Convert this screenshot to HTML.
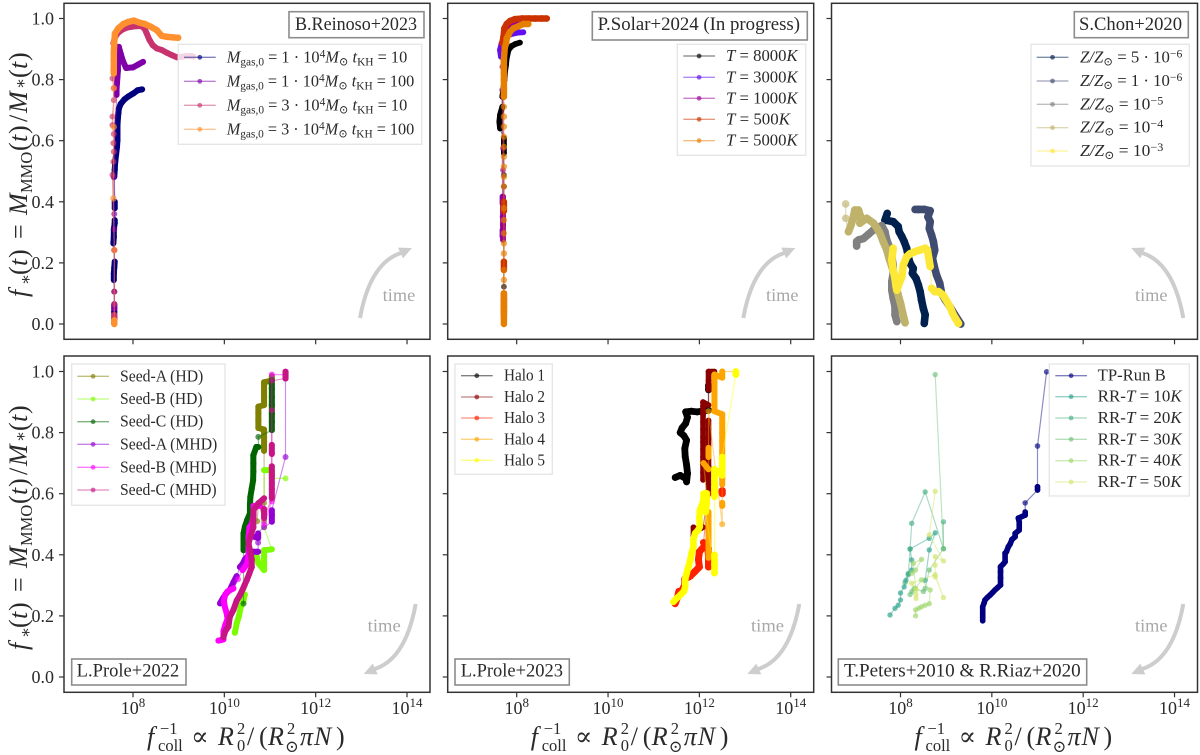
<!DOCTYPE html>
<html lang="en">
<head>
<meta charset="utf-8">
<title>Stellar mass fraction vs collision parameter</title>
<style>
html,body{margin:0;padding:0;background:#fff;}
svg{display:block;font-family:"Liberation Serif","DejaVu Serif",serif;fill:#2a2a2a;}
.m{font-style:italic;}
.s{font-size:11.5px;}
.ll{font-size:16.5px;}
.tt{font-size:18.5px;}
.tm{font-size:18px;fill:#a8a8a8;}
.tb{fill:#fff;stroke:#8c8c8c;stroke-width:1.6;}
.lb{fill:#fff;fill-opacity:.8;stroke:#e6e6e6;stroke-width:1.4;}
.fr{fill:none;stroke:#333;stroke-width:1.5;}
.ax{font-size:26px;}
.axs{font-size:16.5px;}
.tk{font-size:18px;}
.ar{fill:none;stroke:#cdcdcd;stroke-width:4;}
.ah{fill:#cdcdcd;stroke:none;}
</style>
</head>
<body>
<svg id="chart" xmlns="http://www.w3.org/2000/svg" width="1200" height="755" viewBox="0 0 1200 755">
<rect x="0" y="0" width="1200" height="755" fill="#fff"/>

<!-- Panel 1 -->
<g>
<g id="marks-0"></g>
<rect class="fr" x="64" y="3.3" width="366" height="336"/>
<g id="ticks-0"></g>
<rect class="tb" x="289" y="11.7" width="135" height="26"/>
<text class="tt" x="295" y="30" textLength="122" lengthAdjust="spacingAndGlyphs">B.Reinoso+2023</text>
<g>
<rect class="lb" x="178.3" y="44.3" width="243.4" height="100"/>
<g id="legend-0"></g>
<text class="ll" x="226.7" y="62.3" textLength="180.6" lengthAdjust="spacingAndGlyphs"><tspan class="m">M</tspan><tspan class="s" dy="3">gas,0</tspan><tspan dy="-3"> = 1 · 10</tspan><tspan class="s" dy="-5">4</tspan><tspan class="m" dy="5">M</tspan><tspan class="s" dy="3">⊙</tspan><tspan class="m" dy="-3"> t</tspan><tspan class="s" dy="3">KH</tspan><tspan dy="-3"> = 10</tspan></text>
<text class="ll" x="226.7" y="86.3" textLength="187.6" lengthAdjust="spacingAndGlyphs"><tspan class="m">M</tspan><tspan class="s" dy="3">gas,0</tspan><tspan dy="-3"> = 1 · 10</tspan><tspan class="s" dy="-5">4</tspan><tspan class="m" dy="5">M</tspan><tspan class="s" dy="3">⊙</tspan><tspan class="m" dy="-3"> t</tspan><tspan class="s" dy="3">KH</tspan><tspan dy="-3"> = 100</tspan></text>
<text class="ll" x="226.7" y="110.3" textLength="180.6" lengthAdjust="spacingAndGlyphs"><tspan class="m">M</tspan><tspan class="s" dy="3">gas,0</tspan><tspan dy="-3"> = 3 · 10</tspan><tspan class="s" dy="-5">4</tspan><tspan class="m" dy="5">M</tspan><tspan class="s" dy="3">⊙</tspan><tspan class="m" dy="-3"> t</tspan><tspan class="s" dy="3">KH</tspan><tspan dy="-3"> = 10</tspan></text>
<text class="ll" x="226.7" y="134.3" textLength="187.6" lengthAdjust="spacingAndGlyphs"><tspan class="m">M</tspan><tspan class="s" dy="3">gas,0</tspan><tspan dy="-3"> = 3 · 10</tspan><tspan class="s" dy="-5">4</tspan><tspan class="m" dy="5">M</tspan><tspan class="s" dy="3">⊙</tspan><tspan class="m" dy="-3"> t</tspan><tspan class="s" dy="3">KH</tspan><tspan dy="-3"> = 100</tspan></text>
</g>
<g transform="translate(360,318)"><path class="ar" d="M0,0 Q10,-55 41,-65"/><polygon class="ah" points="52,-70 43,-59.6 38,-70.4"/></g>
<text class="tm" x="382.7" y="301" textLength="32.5" lengthAdjust="spacingAndGlyphs">time</text>
</g>

<!-- Panel 2 -->
<g>
<g id="marks-1"></g>
<rect class="fr" x="447.7" y="3.3" width="366" height="336"/>
<g id="ticks-1"></g>
<rect class="tb" x="592.3" y="11.7" width="215" height="28.3"/>
<text class="tt" x="597.7" y="30" textLength="202.3" lengthAdjust="spacingAndGlyphs">P.Solar+2024 (In progress)</text>
<g>
<rect class="lb" x="677.3" y="44.3" width="128.4" height="111"/>
<g id="legend-1"></g>
<text class="ll" x="726" y="61" textLength="71.7" lengthAdjust="spacingAndGlyphs"><tspan class="m">T</tspan> = 8000<tspan class="m">K</tspan></text>
<text class="ll" x="726" y="82.3" textLength="71.7" lengthAdjust="spacingAndGlyphs"><tspan class="m">T</tspan> = 3000<tspan class="m">K</tspan></text>
<text class="ll" x="726" y="103.3" textLength="71.7" lengthAdjust="spacingAndGlyphs"><tspan class="m">T</tspan> = 1000<tspan class="m">K</tspan></text>
<text class="ll" x="726" y="124.3" textLength="64" lengthAdjust="spacingAndGlyphs"><tspan class="m">T</tspan> = 500<tspan class="m">K</tspan></text>
<text class="ll" x="726" y="145.7" textLength="71.7" lengthAdjust="spacingAndGlyphs"><tspan class="m">T</tspan> = 5000<tspan class="m">K</tspan></text>
</g>
<g transform="translate(743.3,318)"><path class="ar" d="M0,0 Q10,-55 41,-65"/><polygon class="ah" points="52,-70 43,-59.6 38,-70.4"/></g>
<text class="tm" x="766" y="301" textLength="32.5" lengthAdjust="spacingAndGlyphs">time</text>
</g>

<!-- Panel 3 -->
<g>
<g id="marks-2"></g>
<rect class="fr" x="831.5" y="3.3" width="366" height="336"/>
<g id="ticks-2"></g>
<rect class="tb" x="1074.3" y="11.7" width="114" height="26"/>
<text class="tt" x="1079" y="30" textLength="103" lengthAdjust="spacingAndGlyphs">S.Chon+2020</text>
<g>
<rect class="lb" x="1031" y="44.3" width="158.3" height="121.7"/>
<g id="legend-2"></g>
<text class="ll" x="1080" y="62.3" textLength="102.3" lengthAdjust="spacingAndGlyphs"><tspan class="m">Z/Z</tspan><tspan class="s" dy="3">⊙</tspan><tspan dy="-3"> = 5 · 10</tspan><tspan class="s" dy="-5">−6</tspan></text>
<text class="ll" x="1080" y="86" textLength="102.3" lengthAdjust="spacingAndGlyphs"><tspan class="m">Z/Z</tspan><tspan class="s" dy="3">⊙</tspan><tspan dy="-3"> = 1 · 10</tspan><tspan class="s" dy="-5">−6</tspan></text>
<text class="ll" x="1080" y="109.3" textLength="83.3" lengthAdjust="spacingAndGlyphs"><tspan class="m">Z/Z</tspan><tspan class="s" dy="3">⊙</tspan><tspan dy="-3"> = 10</tspan><tspan class="s" dy="-5">−5</tspan></text>
<text class="ll" x="1080" y="132.7" textLength="83.3" lengthAdjust="spacingAndGlyphs"><tspan class="m">Z/Z</tspan><tspan class="s" dy="3">⊙</tspan><tspan dy="-3"> = 10</tspan><tspan class="s" dy="-5">−4</tspan></text>
<text class="ll" x="1080" y="156" textLength="83.3" lengthAdjust="spacingAndGlyphs"><tspan class="m">Z/Z</tspan><tspan class="s" dy="3">⊙</tspan><tspan dy="-3"> = 10</tspan><tspan class="s" dy="-5">−3</tspan></text>
</g>
<g transform="translate(1183.3,318) scale(-1,1)"><path class="ar" d="M0,0 Q10,-55 41,-65"/><polygon class="ah" points="52,-70 43,-59.6 38,-70.4"/></g>
<text class="tm" x="1135" y="301" textLength="32.5" lengthAdjust="spacingAndGlyphs">time</text>
</g>

<!-- Panel 4 -->
<g>
<g id="marks-3"></g>
<rect class="fr" x="64" y="356" width="366" height="336.3"/>
<g id="ticks-3"></g>
<rect class="tb" x="71.7" y="659" width="114.3" height="26"/>
<text class="tt" x="76.7" y="676.7" textLength="102.6" lengthAdjust="spacingAndGlyphs">L.Prole+2022</text>
<g>
<rect class="lb" x="71.7" y="364" width="153.3" height="141.3"/>
<g id="legend-3"></g>
<text class="ll" x="120" y="381.3" textLength="83.3" lengthAdjust="spacingAndGlyphs">Seed-A (HD)</text>
<text class="ll" x="120" y="404" textLength="82.6" lengthAdjust="spacingAndGlyphs">Seed-B (HD)</text>
<text class="ll" x="120" y="426.7" textLength="83.3" lengthAdjust="spacingAndGlyphs">Seed-C (HD)</text>
<text class="ll" x="120" y="449.3" textLength="97.3" lengthAdjust="spacingAndGlyphs">Seed-A (MHD)</text>
<text class="ll" x="120" y="472.3" textLength="96.6" lengthAdjust="spacingAndGlyphs">Seed-B (MHD)</text>
<text class="ll" x="120" y="495" textLength="96.6" lengthAdjust="spacingAndGlyphs">Seed-C (MHD)</text>
</g>
<g transform="translate(415.7,604) scale(-1,-1)"><path class="ar" d="M0,0 Q10,-55 41,-65"/><polygon class="ah" points="52,-70 43,-59.6 38,-70.4"/></g>
<text class="tm" x="367.7" y="631.7" textLength="33" lengthAdjust="spacingAndGlyphs">time</text>
</g>

<!-- Panel 5 -->
<g>
<g id="marks-4"></g>
<rect class="fr" x="447.7" y="356" width="366" height="336.3"/>
<g id="ticks-4"></g>
<rect class="tb" x="455" y="659" width="114.3" height="26"/>
<text class="tt" x="460.7" y="676.7" textLength="102.3" lengthAdjust="spacingAndGlyphs">L.Prole+2023</text>
<g>
<rect class="lb" x="455" y="364" width="97.3" height="110.3"/>
<g id="legend-4"></g>
<text class="ll" x="504" y="380.7" textLength="41" lengthAdjust="spacingAndGlyphs">Halo 1</text>
<text class="ll" x="504" y="402" textLength="41" lengthAdjust="spacingAndGlyphs">Halo 2</text>
<text class="ll" x="504" y="423" textLength="41" lengthAdjust="spacingAndGlyphs">Halo 3</text>
<text class="ll" x="504" y="444.3" textLength="41" lengthAdjust="spacingAndGlyphs">Halo 4</text>
<text class="ll" x="504" y="465.3" textLength="41" lengthAdjust="spacingAndGlyphs">Halo 5</text>
</g>
<g transform="translate(799.3,604) scale(-1,-1)"><path class="ar" d="M0,0 Q10,-55 41,-65"/><polygon class="ah" points="52,-70 43,-59.6 38,-70.4"/></g>
<text class="tm" x="751" y="631.7" textLength="33" lengthAdjust="spacingAndGlyphs">time</text>
</g>

<!-- Panel 6 -->
<g>
<g id="marks-5"></g>
<rect class="fr" x="831.5" y="356" width="366" height="336.3"/>
<g id="ticks-5"></g>
<rect class="tb" x="838.3" y="659" width="248.4" height="26"/>
<text class="tt" x="844" y="676.7" textLength="236.7" lengthAdjust="spacingAndGlyphs">T.Peters+2010 &amp; R.Riaz+2020</text>
<g>
<rect class="lb" x="1049.3" y="364" width="140" height="132"/>
<g id="legend-5"></g>
<text class="ll" x="1097.7" y="380.7" textLength="68" lengthAdjust="spacingAndGlyphs">TP-Run B</text>
<text class="ll" x="1097.7" y="401.7" textLength="84" lengthAdjust="spacingAndGlyphs">RR-<tspan class="m">T</tspan> = 10<tspan class="m">K</tspan></text>
<text class="ll" x="1097.7" y="423" textLength="84" lengthAdjust="spacingAndGlyphs">RR-<tspan class="m">T</tspan> = 20<tspan class="m">K</tspan></text>
<text class="ll" x="1097.7" y="444.3" textLength="84" lengthAdjust="spacingAndGlyphs">RR-<tspan class="m">T</tspan> = 30<tspan class="m">K</tspan></text>
<text class="ll" x="1097.7" y="465.7" textLength="84" lengthAdjust="spacingAndGlyphs">RR-<tspan class="m">T</tspan> = 40<tspan class="m">K</tspan></text>
<text class="ll" x="1097.7" y="487" textLength="84" lengthAdjust="spacingAndGlyphs">RR-<tspan class="m">T</tspan> = 50<tspan class="m">K</tspan></text>
</g>
<g transform="translate(1183.3,604) scale(-1,-1)"><path class="ar" d="M0,0 Q10,-55 41,-65"/><polygon class="ah" points="52,-70 43,-59.6 38,-70.4"/></g>
<text class="tm" x="1135" y="631.7" textLength="32.5" lengthAdjust="spacingAndGlyphs">time</text>
</g>

<!-- Y axis titles -->
<g transform="translate(27,297) rotate(-90)">
<text class="ax" y="0"><tspan class="m" x="0">f</tspan><tspan class="axs" x="12" y="4">∗</tspan><tspan x="22" y="0">(</tspan><tspan class="m" x="31">t</tspan><tspan x="39">)</tspan><tspan x="58">=</tspan><tspan class="m" x="82">M</tspan><tspan class="axs" x="104" y="5">MMO</tspan><tspan x="146" y="0">(</tspan><tspan class="m" x="155">t</tspan><tspan x="163">)</tspan><tspan x="175">/</tspan><tspan class="m" x="184">M</tspan><tspan class="axs" x="208" y="-1">∗</tspan><tspan x="219" y="0">(</tspan><tspan class="m" x="228">t</tspan><tspan x="236">)</tspan></text>
</g>
<g transform="translate(27,650) rotate(-90)">
<text class="ax" y="0"><tspan class="m" x="0">f</tspan><tspan class="axs" x="12" y="4">∗</tspan><tspan x="22" y="0">(</tspan><tspan class="m" x="31">t</tspan><tspan x="39">)</tspan><tspan x="58">=</tspan><tspan class="m" x="82">M</tspan><tspan class="axs" x="104" y="5">MMO</tspan><tspan x="146" y="0">(</tspan><tspan class="m" x="155">t</tspan><tspan x="163">)</tspan><tspan x="175">/</tspan><tspan class="m" x="184">M</tspan><tspan class="axs" x="208" y="-1">∗</tspan><tspan x="219" y="0">(</tspan><tspan class="m" x="228">t</tspan><tspan x="236">)</tspan></text>
</g>

<!-- X axis titles -->
<g transform="translate(0,0)">
<text class="ax" y="745"><tspan class="m" x="147">f</tspan><tspan class="axs" x="160" y="734">−1</tspan><tspan class="axs" x="158" y="751">coll</tspan><tspan x="191" y="745">∝</tspan><tspan class="m" x="218">R</tspan><tspan class="axs" x="237" y="734">2</tspan><tspan class="axs" x="237" y="751">0</tspan><tspan x="247" y="745">/</tspan><tspan x="259">(</tspan><tspan class="m" x="268">R</tspan><tspan class="axs" x="287" y="734">2</tspan><tspan class="axs" x="285" y="752">⊙</tspan><tspan class="m" x="300" y="745">π</tspan><tspan class="m" x="314">N</tspan><tspan x="336">)</tspan></text>
</g>
<g transform="translate(383.7,0)">
<text class="ax" y="745"><tspan class="m" x="147">f</tspan><tspan class="axs" x="160" y="734">−1</tspan><tspan class="axs" x="158" y="751">coll</tspan><tspan x="191" y="745">∝</tspan><tspan class="m" x="218">R</tspan><tspan class="axs" x="237" y="734">2</tspan><tspan class="axs" x="237" y="751">0</tspan><tspan x="247" y="745">/</tspan><tspan x="259">(</tspan><tspan class="m" x="268">R</tspan><tspan class="axs" x="287" y="734">2</tspan><tspan class="axs" x="285" y="752">⊙</tspan><tspan class="m" x="300" y="745">π</tspan><tspan class="m" x="314">N</tspan><tspan x="336">)</tspan></text>
</g>
<g transform="translate(767.5,0)">
<text class="ax" y="745"><tspan class="m" x="147">f</tspan><tspan class="axs" x="160" y="734">−1</tspan><tspan class="axs" x="158" y="751">coll</tspan><tspan x="191" y="745">∝</tspan><tspan class="m" x="218">R</tspan><tspan class="axs" x="237" y="734">2</tspan><tspan class="axs" x="237" y="751">0</tspan><tspan x="247" y="745">/</tspan><tspan x="259">(</tspan><tspan class="m" x="268">R</tspan><tspan class="axs" x="287" y="734">2</tspan><tspan class="axs" x="285" y="752">⊙</tspan><tspan class="m" x="300" y="745">π</tspan><tspan class="m" x="314">N</tspan><tspan x="336">)</tspan></text>
</g>
</svg>

<script>
// Tick values and labels
const xTickExponents = [8, 10, 12, 14];
const yTickValues = [0, 0.2, 0.4, 0.6, 0.8, 1.0];
const yTickLabels = ['0.0', '0.2', '0.4', '0.6', '0.8', '1.0'];

// Panel 1: B.Reinoso+2023 (log10 of x, fraction y)
const reinosoT10LowX = [7.59,7.59,7.59,7.59,7.59,7.58,7.58,7.59,7.6,7.57,7.58,7.58,7.6,7.6,7.6,7.6,7.59,7.6,7.61,7.63,7.65,7.66,7.66,7.66,7.67,7.68,7.69,7.73,7.81,7.9,8.01,8.1,8.2];
const reinosoT10LowY = [.002,.012,.04,.062,.106,.144,.165,.185,.204,.264,.285,.31,.33,.34,.379,.40,.482,.505,.53,.555,.58,.602,.625,.65,.675,.69,.705,.72,.735,.745,.755,.765,.768];
const reinosoT100LowX = [7.59,7.59,7.59,7.59,7.59,7.59,7.59,7.58,7.64,7.64,7.65,7.66,7.67,7.67,7.68,7.69,7.73,7.78,7.85,8.0,8.12,8.22];
const reinosoT100LowY = [.002,.05,.065,.106,.242,.31,.36,.48,.75,.77,.79,.81,.83,.855,.88,.907,.885,.86,.838,.84,.85,.858];
const reinosoT10HighX = [7.59,7.59,7.59,7.59,7.59,7.59,7.55,7.57,7.58,7.57,7.58,7.55,7.55,7.58,7.58,7.55,7.57,7.58,7.57,7.605,7.66,7.75,7.86,7.97,8.08,8.19,8.26,8.3,8.36,8.43,8.52,8.63,8.74,8.85,8.96,9.07,9.18,9.28,9.32];
const reinosoT10HighY = [.002,.018,.03,.065,.106,.242,.488,.531,.564,.592,.622,.651,.679,.733,.772,.804,.831,.891,.919,.938,.951,.962,.97,.973,.975,.975,.965,.951,.93,.913,.902,.897,.888,.88,.873,.875,.877,.877,.875];
const reinosoT100HighX = [7.59,7.59,7.59,7.57,7.58,7.58,7.58,7.58,7.58,7.58,7.59,7.605,7.68,7.79,7.9,8.02,8.15,8.26,8.39,8.52,8.63,8.74,8.88,8.99];
const reinosoT100HighY = [0,.012,.242,.411,.645,.772,.82,.84,.865,.887,.921,.951,.968,.982,.989,.993,.986,.982,.973,.962,.943,.94,.938,.937];

// Panel 2: P.Solar+2024
const solar8000X = [7.72,7.72,7.72,7.72,7.72,7.72,7.72,7.72,7.635,7.62,7.635,7.685,7.685,7.71,7.73,7.745,7.765,7.78,7.82,7.89,7.98,8.07];
const solar8000Y = [.122,.188,.199,.45,.488,.559,.586,.608,.64,.662,.684,.711,.744,.771,.799,.826,.848,.87,.897,.91,.917,.921];
const solar3000X = [7.69,7.69,7.69,7.69,7.69,7.68,7.655,7.635,7.67,7.745,7.82,7.93,8.035,8.145];
const solar3000Y = [.286,.308,.351,.395,.417,.766,.875,.897,.919,.932,.946,.951,.954,.955];
const solar1000X = [7.7,7.7,7.7,7.7,7.7,7.7,7.7,7.7,7.7,7.7,7.685,7.71,7.73,7.745,7.82,7.91,8.0,8.11,8.22];
const solar1000Y = [.275,.30,.325,.35,.375,.40,.417,.504,.575,.744,.842,.897,.92,.941,.968,.975,.979,.982,.984];
const solar500X = [7.72,7.72,7.72,7.72,7.72,7.72,7.72,7.72,7.685,7.71,7.73,7.78,7.855,7.96,8.11,8.255,8.4,8.55,8.66];
const solar500Y = [.03,.055,.08,.10,.177,.204,.37,.40,.919,.94,.968,.982,.992,.998,1.0,1.0,1.0,1.0,1.0];
const solar5000X = [7.72,7.72,7.72,7.72,7.72,7.72,7.72,7.72,7.72,7.72,7.72,7.72,7.72,7.72,7.72,7.72,7.72,7.72,7.72,7.72,7.72,7.72,7.72,7.72,7.72,7.72,7.72,7.72,7.73,7.74,7.77,7.78,7.82,7.855,7.93,8.04,8.145,8.255];
const solar5000Y = [0,.02,.04,.06,.08,.10,.144,.177,.231,.264,.297,.34,.379,.45,.482,.515,.548,.58,.613,.646,.679,.711,.744,.771,.80,.82,.842,.865,.886,.905,.919,.935,.946,.957,.968,.975,.982,.982];

// Panel 3: S.Chon+2020
const chonZ5e6X = [8.52,8.54,8.5,8.46,8.43,8.39,8.34,8.26,8.28,8.21,8.17,8.135,8.08,8.03,7.97,7.95,7.84,7.66,7.71];
const chonZ5e6Y = [.002,.03,.051,.079,.106,.128,.149,.166,.182,.199,.22,.248,.27,.286,.302,.319,.335,.34,.362];
const chonZ1e6X = [9.32,9.19,9.08,8.98,8.9,8.86,8.79,8.74,8.7,8.75,8.72,8.68,8.63,8.65,8.6,8.65,8.52,8.39,8.32];
const chonZ1e6Y = [0,.03,.057,.079,.10,.133,.16,.188,.215,.242,.27,.291,.313,.335,.351,.371,.375,.375,.375];
const chonZ1e5X = [7.92,7.88,7.88,7.84,7.81,7.81,7.84,7.84,7.81,7.77,7.7,7.66,7.59,7.41,7.3,7.19,7.08,7.04,7.04];
const chonZ1e5Y = [.008,.03,.057,.084,.111,.139,.166,.193,.22,.248,.275,.302,.322,.308,.294,.28,.275,.27,.255];
const chonZ1e4X = [8.1,8.05,8.0,7.95,7.9,7.88,7.81,7.75,7.7,7.62,7.55,7.5,7.41,7.26,7.11,7.13,7.08,7.0,6.97,6.92,6.86,6.8,6.8];
const chonZ1e4Y = [.004,.035,.068,.095,.122,.155,.188,.215,.242,.27,.297,.31,.33,.346,.33,.35,.373,.373,.351,.325,.302,.346,.393];
const chonZ1e3X = [9.27,9.2,9.14,9.08,9.02,8.93,8.83,8.75,8.68,8.65,8.62,8.59,8.54,8.43,8.32,8.21,8.135,8.06,8.03,7.97,7.92,7.88,7.84,7.81,7.84];
const chonZ1e3Y = [.002,.019,.035,.057,.073,.095,.106,.106,.117,.188,.215,.242,.248,.242,.237,.23,.22,.193,.155,.133,.111,.149,.177,.21,.248];

// Panel 4: L.Prole+2022
const proleSeedAHdX = [10.72,10.745,10.87,10.87,10.87,10.87,10.87,10.87,10.87,10.745,10.745,10.745,10.745,10.87,10.87,10.87,10.87,11.04,11.04];
const proleSeedAHdY = [.51,.57,.51,.54,.57,.74,.76,.785,.81,.815,.84,.865,.885,.89,.915,.94,.965,.97,.985];
const proleSeedBHdX = [10.23,10.27,10.32,10.36,10.42,10.45,10.6,10.71,10.745,10.87,10.87,10.87,10.87,11.04,10.87,10.87,10.87,11.04,11.04,11.34];
const proleSeedBHdY = [.145,.175,.2,.23,.25,.27,.36,.394,.372,.35,.372,.394,.415,.418,.49,.54,.677,.677,.65,.65];
const proleSeedCHdX = [10.42,10.42,10.42,10.42,10.45,10.5,10.56,10.56,10.57,10.6,10.63,10.635,10.635,10.635,10.7,10.745,10.745,11.04,11.04,11.04,11.04,11.04,11.04,11.04];
const proleSeedCHdY = [.24,.415,.443,.47,.492,.514,.535,.563,.59,.617,.644,.672,.699,.726,.753,.753,.786,.808,.835,.863,.89,.917,.944,.972];
const proleSeedAMhdX = [9.905,9.98,10.05,10.12,10.2,10.27,10.34,10.4,10.45,10.54,10.63,10.71,10.74,10.74,10.74,10.74,10.63,10.87,11.04,11.04,11.04,11.34,11.34,11.34];
const proleSeedAMhdY = [.241,.26,.275,.285,.31,.33,.36,.37,.385,.4,.41,.41,.41,.44,.47,.455,.46,.49,.508,.53,.546,.72,.977,.999];
const proleSeedBMhdX = [9.87,9.93,9.98,9.98,10.02,10.07,10.05,10.01,9.99,10.02,10.07,10.2,10.3,10.4,10.5,10.53,10.53,10.53,10.55,10.6,10.64,10.64,10.78,10.87,11.04,11.04,11.34];
const proleSeedBMhdY = [.119,.121,.123,.15,.17,.19,.21,.23,.25,.27,.28,.29,.32,.35,.37,.40,.43,.46,.49,.5,.53,.56,.56,.5,.575,.99,.99];
const proleSeedCMhdX = [9.98,10.02,10.09,10.12,10.2,10.27,10.33,10.38,10.44,10.49,10.55,10.6,10.6,10.56,10.53,10.58,10.635,10.635,10.635,10.745,10.87,10.87,10.87,11.04,11.04,11.04,11.04,11.04,11.04,11.04,11.04,11.04,11.34,11.34];
const proleSeedCMhdY = [.13,.15,.165,.197,.22,.25,.265,.28,.3,.317,.34,.36,.385,.415,.437,.465,.49,.52,.546,.568,.585,.55,.52,.585,.615,.634,.66,.69,.73,.76,.873,.97,.977,.999];

// Panel 5: L.Prole+2023
const haloOneX = [11.47,11.58,11.7,11.72,11.74,11.72,11.69,11.68,11.72,11.66,11.58,11.62,11.7,11.74,11.7,11.82,11.95,12.05,12.2,12.2,12.2];
const haloOneY = [.653,.66,.65,.639,.666,.694,.721,.748,.775,.79,.80,.815,.83,.85,.868,.87,.868,.87,.873,.94,.955];
const haloTwoX = [11.87,11.87,11.95,12.08,12.2,12.2,12.2,12.2,12.2,12.2,12.2,12.2,12.2,12.08,12.08,12.08,12.08,12.08,12.08,12.08,12.08,12.08,12.08,12.08,12.08,12.2,12.2,12.2,12.2,12.33];
const haloTwoY = [.46,.49,.48,.49,.6,.63,.66,.69,.72,.75,.78,.81,.84,.645,.67,.695,.72,.745,.77,.785,.81,.835,.86,.885,.9,.89,.94,.97,1.0,1.0];
const haloThreeX = [11.47,11.52,11.55,11.6,11.68,11.68,11.8,11.9,12.0,11.98,12.0,12.09,12.2,12.2,12.2,12.09,12.2,12.5,12.5];
const haloThreeY = [.24,.26,.28,.28,.3,.32,.33,.345,.36,.385,.41,.425,.36,.39,.42,.44,.6,.61,.6];
const haloFourX = [12.2,12.2,12.2,12.2,12.2,12.2,12.09,12.2,12.2,12.2,12.2,12.5,12.5,12.5,12.5,12.5,12.5,12.5,12.5,12.5,12.5,12.5,12.5,12.33,12.33,12.33,12.33,12.33,12.5,12.5,12.8];
const haloFourY = [.39,.42,.45,.48,.51,.54,.7,.68,.72,.75,.87,.50,.56,.57,.63,.65,.68,.71,.74,.77,.8,.83,.86,.87,.9,.93,.96,.99,.98,1.0,1.0];
const haloFiveX = [11.43,11.5,11.58,11.66,11.69,11.69,11.72,11.76,11.8,11.83,11.87,11.87,11.905,11.97,12.01,12.0,12.01,12.05,12.09,12.09,12.16,12.16,12.14,12.33,12.33,12.33,12.33,12.33,12.33,12.33,12.5,12.5,12.5,12.8,12.8];
const haloFiveY = [.246,.257,.268,.28,.295,.32,.339,.36,.383,.405,.426,.45,.47,.48,.492,.52,.546,.56,.579,.6,.601,.57,.54,.34,.37,.40,.59,.62,.65,.68,.66,.69,.72,.99,1.0];

// Panel 6: T.Peters+2010 & R.Riaz+2020
const tpRunBX = [9.8,9.8,9.8,9.8,9.83,9.85,9.9,9.96,10.02,10.07,10.13,10.19,10.19,10.19,10.19,10.25,10.29,10.29,10.32,10.36,10.4,10.44,10.51,10.51,10.6,10.6,10.6,10.58,10.73,10.73,10.73,11.0,11.0,11.0,11.2];
const tpRunBY = [.184,.196,.208,.23,.242,.252,.26,.268,.277,.285,.293,.301,.325,.345,.361,.37,.377,.405,.41,.426,.435,.45,.459,.47,.481,.5,.508,.52,.53,.54,.57,.612,.623,.756,.999];
const riazT10X = [7.77,7.88,7.95,8.0,8.0,8.08,8.12,8.17,8.245,8.245,8.21,8.63,8.76,8.63,8.54];
const riazT10Y = [.203,.225,.235,.252,.275,.295,.317,.339,.35,.383,.419,.454,.472,.416,.317];
const riazT20X = [8.1,8.17,8.21,8.245,8.54,8.94,8.94];
const riazT20Y = [.31,.334,.419,.503,.606,.42,.508];
const riazT30X = [8.25,8.21,8.3,8.5,8.54,8.63,8.94,8.76];
const riazT30Y = [.28,.27,.29,.28,.29,.35,.42,.99];
const riazT40X = [8.33,8.33,8.4,8.46,8.54,8.63,8.65,8.46,8.33,8.28,8.46,8.33,8.25];
const riazT40Y = [.2,.22,.225,.23,.235,.24,.285,.318,.29,.372,.385,.35,.34];
const riazT50X = [8.34,8.34,8.34,8.245,8.76,8.94,8.76,8.76,8.76,8.94,8.63,8.76];
const riazT50Y = [.257,.27,.285,.307,.335,.26,.328,.366,.394,.38,.465,.608];

// Layout of the six panels
const panelOffsetsX = [0, 383.7, 767.5, 0, 383.7, 767.5];
const panelRowOf = [0, 0, 0, 1, 1, 1];
const panelSwatchStart = [184, 683.3, 1036.7, 77.3, 461, 1055.3];
const rowZeroPx = [324, 677];

// Series registry
const seriesList = [
  {p:0, name:'reinoso-1e4-t10', color:'#00007f', x:reinosoT10LowX, y:reinosoT10LowY, r:3, gap:9, ly:57.3},
  {p:0, name:'reinoso-1e4-t100', color:'#7f00a8', x:reinosoT100LowX, y:reinosoT100LowY, r:3, gap:10, ly:81.3},
  {p:0, name:'reinoso-3e4-t10', color:'#c8336f', x:reinosoT10HighX, y:reinosoT10HighY, r:3, gap:7.6, ly:105.3},
  {p:0, name:'reinoso-3e4-t100', color:'#ff9030', x:reinosoT100HighX, y:reinosoT100HighY, r:3.2, gap:11, ly:129.3},
  {p:1, name:'solar-8000k', color:'#000000', x:solar8000X, y:solar8000Y, r:2.9, gap:10, ly:56},
  {p:1, name:'solar-3000k', color:'#6010f0', x:solar3000X, y:solar3000Y, r:2.9, gap:10, ly:77.3},
  {p:1, name:'solar-1000k', color:'#990099', x:solar1000X, y:solar1000Y, r:2.9, gap:10, ly:98.3},
  {p:1, name:'solar-500k', color:'#cc3300', x:solar500X, y:solar500Y, r:3.2, gap:10, ly:119.3},
  {p:1, name:'solar-5000k', color:'#e67e00', x:solar5000X, y:solar5000Y, r:3.2, gap:9, ly:140.7},
  {p:2, name:'chon-z-5e-6', color:'#00224e', x:chonZ5e6X, y:chonZ5e6Y, r:3.8, gap:12, ly:57.3},
  {p:2, name:'chon-z-1e-6', color:'#3f4b70', x:chonZ1e6X, y:chonZ1e6Y, r:3.8, gap:12, ly:81},
  {p:2, name:'chon-z-1e-5', color:'#808080', x:chonZ1e5X, y:chonZ1e5Y, r:3.8, gap:12, ly:104.3},
  {p:2, name:'chon-z-1e-4', color:'#bfb26c', x:chonZ1e4X, y:chonZ1e4Y, r:3.8, gap:12, ly:127.7},
  {p:2, name:'chon-z-1e-3', color:'#fee838', x:chonZ1e3X, y:chonZ1e3Y, r:3.8, gap:12, ly:151},
  {p:3, name:'prole-seed-a-hd', color:'#808000', x:proleSeedAHdX, y:proleSeedAHdY, r:3, gap:9, ly:376.3},
  {p:3, name:'prole-seed-b-hd', color:'#7cfc00', x:proleSeedBHdX, y:proleSeedBHdY, r:3, gap:10, ly:399},
  {p:3, name:'prole-seed-c-hd', color:'#006400', x:proleSeedCHdX, y:proleSeedCHdY, r:3, gap:9.5, ly:421.7},
  {p:3, name:'prole-seed-a-mhd', color:'#9400d3', x:proleSeedAMhdX, y:proleSeedAMhdY, r:3, gap:9, ly:444.3},
  {p:3, name:'prole-seed-b-mhd', color:'#ff00ff', x:proleSeedBMhdX, y:proleSeedBMhdY, r:3, gap:10, ly:467.3},
  {p:3, name:'prole-seed-c-mhd', color:'#c71585', x:proleSeedCMhdX, y:proleSeedCMhdY, r:3, gap:10, ly:490},
  {p:4, name:'halo-1', color:'#000000', x:haloOneX, y:haloOneY, r:3.4, gap:10, ly:375.7},
  {p:4, name:'halo-2', color:'#8b0000', x:haloTwoX, y:haloTwoY, r:2.8, gap:9.5, ly:397},
  {p:4, name:'halo-3', color:'#ff2000', x:haloThreeX, y:haloThreeY, r:3.5, gap:10, ly:418},
  {p:4, name:'halo-4', color:'#ffa500', x:haloFourX, y:haloFourY, r:3, gap:10, ly:439.3},
  {p:4, name:'halo-5', color:'#ffff00', x:haloFiveX, y:haloFiveY, r:3.3, gap:11, ly:460.3},
  {p:5, name:'tp-run-b', color:'#000080', x:tpRunBX, y:tpRunBY, r:2.8, gap:9, ly:375.7},
  {p:5, name:'rr-t-10k', color:'#26a18b', x:riazT10X, y:riazT10Y, r:2.7, gap:0, ly:396.7},
  {p:5, name:'rr-t-20k', color:'#47ae82', x:riazT20X, y:riazT20Y, r:2.7, gap:0, ly:418},
  {p:5, name:'rr-t-30k', color:'#6ec27a', x:riazT30X, y:riazT30Y, r:2.7, gap:0, ly:439.3},
  {p:5, name:'rr-t-40k', color:'#9dd66a', x:riazT40X, y:riazT40Y, r:2.7, gap:0, ly:460.7},
  {p:5, name:'rr-t-50k', color:'#d0e56a', x:riazT50X, y:riazT50Y, r:2.7, gap:0, ly:482}
];

const SVG_NS = 'http://www.w3.org/2000/svg';
const PX_PER_DECADE = 45.67;
const PX_PER_UNIT = 305.5;

function xScale(panel, logValue) {
  return 133 + panelOffsetsX[panel] + (logValue - 8) * PX_PER_DECADE;
}
function yScale(panel, value) {
  return rowZeroPx[panelRowOf[panel]] - value * PX_PER_UNIT;
}
function make(tag, attrs) {
  const el = document.createElementNS(SVG_NS, tag);
  for (const k in attrs) el.setAttribute(k, attrs[k]);
  return el;
}

function drawTicks(panel) {
  const holder = document.getElementById('ticks-' + panel);
  const row = panelRowOf[panel];
  const left = 64 + panelOffsetsX[panel];
  const bottom = row === 0 ? 339.3 : 692.3;
  yTickValues.forEach(function (v, i) {
    const py = yScale(panel, v);
    const tick = make('line', {x1: left - 5, x2: left, y1: py, y2: py, stroke: '#333', 'stroke-width': 1.2});
    
    
    holder.appendChild(tick);
    if (panel % 3 === 0) {
      const label = make('text', {x: left - 10, y: py + 6, 'text-anchor': 'end', class: 'tk'});
      
      
      label.textContent = yTickLabels[i];
      holder.appendChild(label);
    }
  });
  xTickExponents.forEach(function (e) {
    const px = xScale(panel, e);
    const tick = make('line', {x1: px, x2: px, y1: bottom, y2: bottom + 5, stroke: '#333', 'stroke-width': 1.2});
    
    
    holder.appendChild(tick);
    if (row === 1) {
      const label = make('text', {x: px, y: 714, 'text-anchor': 'middle', class: 'tk'});
      
      
      const base = make('tspan', {});
      base.textContent = '10';
      const sup = make('tspan', {dy: -7, 'font-size': 13});
      sup.textContent = String(e);
      label.appendChild(base);
      label.appendChild(sup);
      holder.appendChild(label);
    }
  });
}

function drawSeries(s) {
  const holder = document.getElementById('marks-' + s.p);
  const g = make('g', {});
  
  
  const n = Math.min(s.x.length, s.y.length);
  const pts = [];
  for (let i = 0; i < n; i++) pts.push([xScale(s.p, s.x[i]), yScale(s.p, s.y[i])]);
  const line = make('polyline', {
    points: pts.map(function (q) { return q[0].toFixed(1) + ',' + q[1].toFixed(1); }).join(' '),
    fill: 'none', stroke: s.color, 'stroke-width': 1.2, 'stroke-opacity': 0.45
  });
  
  
  g.appendChild(line);
  // Samples that sit closer than the series gap read as a continuous marker run.
  for (let i = 1; i < n; i++) {
    const dx = pts[i][0] - pts[i - 1][0];
    const dy = pts[i][1] - pts[i - 1][1];
    if (Math.sqrt(dx * dx + dy * dy) <= s.gap) {
      const run = make('line', {
        x1: pts[i - 1][0], y1: pts[i - 1][1], x2: pts[i][0], y2: pts[i][1],
        stroke: s.color, 'stroke-width': 2 * s.r, 'stroke-linecap': 'round'
      });
      
      
      g.appendChild(run);
    }
  }
  pts.forEach(function (q) {
    const dot = make('circle', {cx: q[0], cy: q[1], r: s.r, fill: s.color, 'fill-opacity': 0.65});
    
    
    g.appendChild(dot);
  });
  holder.appendChild(g);
}

function drawSwatch(s) {
  const holder = document.getElementById('legend-' + s.p);
  const x0 = panelSwatchStart[s.p];
  const sw = make('line', {x1: x0, x2: x0 + 31.7, y1: s.ly, y2: s.ly, stroke: s.color, 'stroke-width': 1.3, 'stroke-opacity': 0.5});
  
  
  holder.appendChild(sw);
  const dot = make('circle', {cx: x0 + 15.8, cy: s.ly, r: 2.4, fill: s.color, 'fill-opacity': 0.65});
  
  
  holder.appendChild(dot);
}

for (let p = 0; p < 6; p++) drawTicks(p);
seriesList.forEach(drawSeries);
seriesList.forEach(drawSwatch);
</script>
</body>
</html>
